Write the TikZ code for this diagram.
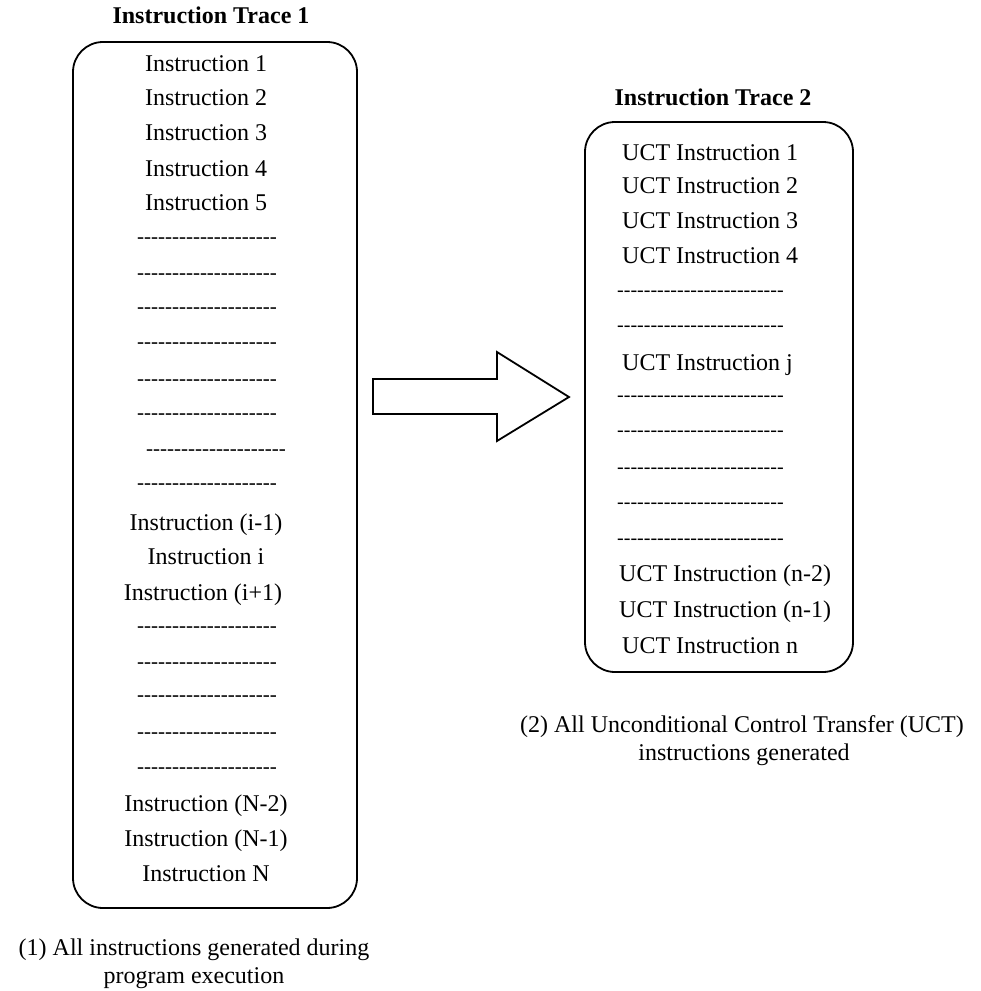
\documentclass[tikz,border=0pt]{standalone}
\usepackage{fontspec}
\setmainfont{Liberation Serif}[Ligatures=TeXOff]
\newcommand\dlA{--------------------}
\newcommand\dlB{-------------------------}
\begin{document}
\begin{tikzpicture}[x=1pt,y=-1pt,
  txt/.style={font=\fontsize{24}{28}\selectfont, inner sep=0pt, anchor=base},
  ttl/.style={font=\fontsize{24}{28}\selectfont\bfseries, inner sep=0pt, anchor=base},
  dsa/.style={font=\fontsize{21}{24}\selectfont, inner sep=0pt, anchor=base},
  dsb/.style={font=\fontsize{20}{24}\selectfont, inner sep=0pt, anchor=base west},
  txtw/.style={font=\fontsize{24}{28}\selectfont, inner sep=0pt, anchor=base west},
  tracebox/.style={draw, line width=1.8pt, rounded corners=30pt, inner sep=0pt}]
\useasboundingbox (0,0) rectangle (981,991);
% titles
\node[ttl] (t1) at (211,23) {Instruction Trace 1};
\node[ttl] (t2) at (713,105) {Instruction Trace 2};
% boxes
\node[tracebox, minimum width=284pt, minimum height=866pt] (box1) at (215,475) {};
\node[tracebox, minimum width=268pt, minimum height=550pt] (box2) at (719,397) {};
% left rows
\node[txt] (a1) at (206,71) {Instruction 1};
\node[txt] (a2) at (206,105) {Instruction 2};
\node[txt] (a3) at (206,140) {Instruction 3};
\node[txt] (a4) at (206,176) {Instruction 4};
\node[txt] (a5) at (206,210) {Instruction 5};
\node[dsa] (d1) at (207,243) {\dlA};
\node[dsa] (d2) at (207,279) {\dlA};
\node[dsa] (d3) at (207,313) {\dlA};
\node[dsa] (d4) at (207,348) {\dlA};
\node[dsa] (d5) at (207,385) {\dlA};
\node[dsa] (d6) at (207,419) {\dlA};
\node[dsa] (d7) at (216,455) {\dlA};
\node[dsa] (d8) at (207,489) {\dlA};
\node[txt] (a6) at (206,530) {Instruction (i-1)};
\node[txt] (a7) at (206,564) {Instruction i};
\node[txt] (a8) at (203,600) {Instruction (i+1)};
\node[dsa] (d9) at (207,632) {\dlA};
\node[dsa] (d10) at (207,668) {\dlA};
\node[dsa] (d11) at (207,701) {\dlA};
\node[dsa] (d12) at (207,738) {\dlA};
\node[dsa] (d13) at (207,773) {\dlA};
\node[txt] (a9) at (206,811) {Instruction (N-2)};
\node[txt] (a10) at (206,846) {Instruction (N-1)};
\node[txt] (a11) at (206,881) {Instruction N};
% right rows
\node[txtw] (b1) at (622,160) {UCT Instruction 1};
\node[txtw] (b2) at (622,193) {UCT Instruction 2};
\node[txtw] (b3) at (622,228) {UCT Instruction 3};
\node[txtw] (b4) at (622,263) {UCT Instruction 4};
\node[dsb] (e1) at (617,296) {\dlB};
\node[dsb] (e2) at (617,331) {\dlB};
\node[txtw] (b5) at (622,370) {UCT Instruction j};
\node[dsb] (e3) at (617,401) {\dlB};
\node[dsb] (e4) at (617,436) {\dlB};
\node[dsb] (e5) at (617,473) {\dlB};
\node[dsb] (e6) at (617,508) {\dlB};
\node[dsb] (e7) at (617,544) {\dlB};
\node[txtw] (b6) at (619,581) {UCT Instruction (n-2)};
\node[txtw] (b7) at (619,617) {UCT Instruction (n-1)};
\node[txtw] (b8) at (622,653) {UCT Instruction n};
% block arrow
\draw[line width=1.8pt, line join=miter] (373,379) -- (497,379) -- (497,352) -- (569,397) -- (497,441) -- (497,414) -- (373,414) -- cycle;
% captions
\node[txt] (c1) at (194,955) {(1) All instructions generated during};
\node[txt] (c2) at (194,983) {program execution};
\node[txt] (c3) at (742,732) {(2) All Unconditional Control Transfer (UCT)};
\node[txt] (c4) at (744,760) {instructions generated};
\end{tikzpicture}
\end{document}
